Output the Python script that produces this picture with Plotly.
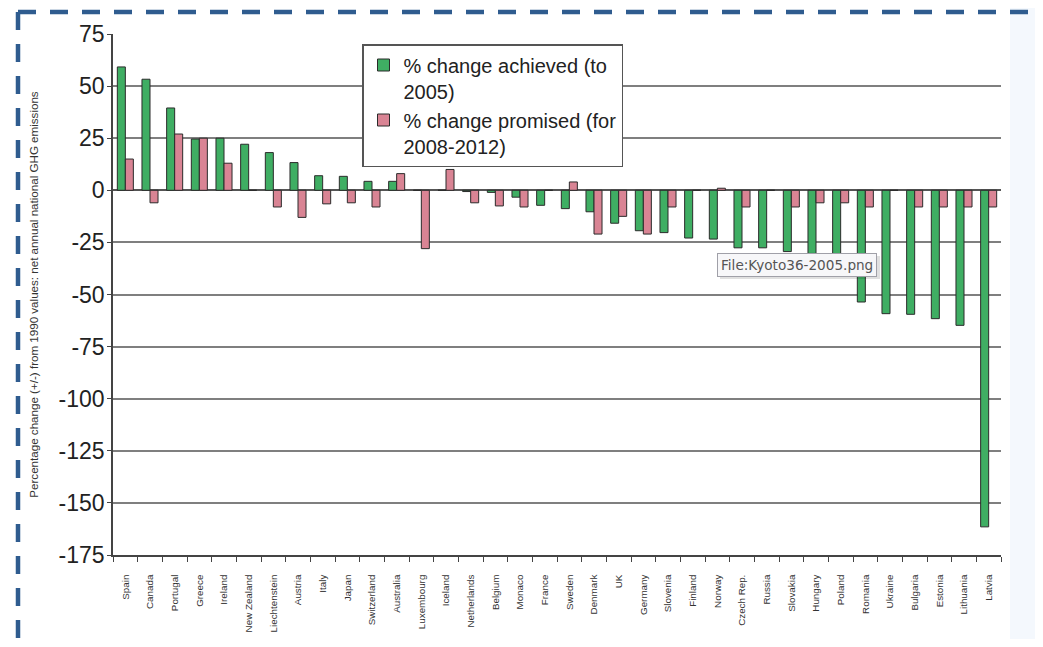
import plotly.graph_objects as go

countries = ["Spain", "Canada", "Portugal", "Greece", "Ireland", "New Zealand", "Liechtenstein",
             "Austria", "Italy", "Japan", "Switzerland", "Australia", "Luxembourg", "Iceland",
             "Netherlands", "Belgium", "Monaco", "France", "Sweden", "Denmark", "UK", "Germany",
             "Slovenia", "Finland", "Norway", "Czech Rep.", "Russia", "Slovakia", "Hungary",
             "Poland", "Romania", "Ukraine", "Bulgaria", "Estonia", "Lithuania", "Latvia"]

achieved = [59.2, 53.3, 39.5, 24.6, 25.0, 22.1, 18.1, 13.3, 7.0, 6.7, 4.3, 4.3, 0.0, 0.0,
            -0.6, -1.0, -3.3, -7.2, -8.8, -10.3, -15.8, -19.4, -20.3, -22.9, -23.4, -27.6,
            -27.6, -29.4, -30.3, -30.6, -53.6, -59.2, -59.5, -61.6, -64.8, -161.5]

promised = [15, -6, 27, 25, 13, 0, -8, -13, -6.5, -6, -8, 8, -28, 10, -6, -7.5, -8, 0, 4,
            -21, -12.5, -21, -8, 0, 1, -8, 0, -8, -6, -6, -8, 0, -8, -8, -8, -8]

y_ticks = [75, 50, 25, 0, -25, -50, -75, -100, -125, -150, -175]
y_tick_text = ["75", "50", "25", "0", "-25", "-50", "-75", "-100", "-125", "-150", "-175"]

name_achieved = "% change achieved (to<br>2005)"
name_promised = "% change promised (for<br>2008-2012)"
y_title = "Percentage change (+/-) from 1990 values: net annual national GHG emissions"
tooltip_text = "File:Kyoto36-2005.png"

# page has an 8px body margin; figure sized so the page does not overflow
OFF = 8
W, H = 1043 - 2 * OFF, 647 - 2 * OFF
PLOT_L, PLOT_R, PLOT_T, PLOT_B = 113, 1001, 34, 555   # page pixels
ML = PLOT_L - OFF
MT = PLOT_T - OFF
MR = (OFF + W) - PLOT_R
MB = (OFF + H) - PLOT_B
PW, PH = PLOT_R - PLOT_L, PLOT_B - PLOT_T


def px(x):
    return (x - PLOT_L) / PW


def py(y):
    return (PLOT_B - y) / PH


GREEN = "#3fae63"
PINK = "#d98494"
EDGE = "#2b2b2b"
FONT = "Liberation Sans, Arial, sans-serif"
PAGE_R, PAGE_B = OFF + W, OFF + H

fig = go.Figure()
fig.add_trace(go.Bar(x=countries, y=achieved, name=name_achieved,
                     marker=dict(color=GREEN, line=dict(color=EDGE, width=1))))
fig.add_trace(go.Bar(x=countries, y=promised, name=name_promised,
                     marker=dict(color=PINK, line=dict(color=EDGE, width=1))))

shapes = [
    dict(type="rect", xref="paper", yref="paper", x0=px(1010), x1=px(PAGE_R), y0=py(PAGE_B), y1=py(OFF),
         fillcolor="#f4f8fd", line=dict(width=0), layer="below"),
    dict(type="line", xref="paper", yref="paper", x0=px(18), x1=px(PAGE_R), y0=py(12), y1=py(12),
         line=dict(color="#2f5c8f", width=4.5, dash="18px,14px")),
    dict(type="line", xref="paper", yref="paper", x0=px(18), x1=px(18), y0=py(12), y1=py(PAGE_B),
         line=dict(color="#2f5c8f", width=4.5, dash="18px,14px")),
    dict(type="rect", xref="paper", yref="paper", x0=px(720), x1=px(880), y0=py(279), y1=py(256),
         fillcolor="rgba(0,0,0,0.12)", line=dict(width=0)),
]

annotations = [
    dict(text=tooltip_text, xref="paper", yref="paper", x=px(717), y=py(253),
         xanchor="left", yanchor="top", showarrow=False,
         font=dict(family="DejaVu Sans, sans-serif", size=13.6, color="#555555"),
         bgcolor="#f7f7f9", bordercolor="#a0a0a8", borderwidth=1, borderpad=3),
]

fig.update_layout(
    width=W, height=H,
    margin=dict(l=ML, r=MR, t=MT, b=MB, autoexpand=False),
    paper_bgcolor="white", plot_bgcolor="white",
    font=dict(family=FONT, color="#222222"),
    barmode="group", bargap=0.35, bargroupgap=0.0,
    showlegend=True,
    legend=dict(x=px(362), y=py(44), xanchor="left", yanchor="top",
                bgcolor="white", bordercolor="#555555", borderwidth=1.5,
                font=dict(size=20, color="#222222", family=FONT),
                valign="top", tracegroupgap=8, itemwidth=30),
    shapes=shapes,
    annotations=annotations,
    xaxis=dict(type="category", tickangle=-90, tickfont=dict(size=9.8, color="#333333"),
               showline=True, linecolor="#444444", linewidth=1.5,
               ticks="outside", ticklen=5, tickcolor="#444444", tickson="boundaries",
               showgrid=False, automargin=False, ticklabelstandoff=14),
    yaxis=dict(range=[-175, 75], tickvals=y_ticks, ticktext=y_tick_text,
               tickfont=dict(size=23, color="#222222"),
               showline=True, linecolor="#444444", linewidth=1.5,
               ticks="outside", ticklen=4, tickcolor="#444444", ticklabelstandoff=-2,
               showgrid=True, gridcolor="#7f7f7f", gridwidth=1.5,
               zeroline=True, zerolinecolor="#555555", zerolinewidth=1.5,
               automargin=False,
               title=dict(text=y_title, font=dict(size=11.6, color="#333333"), standoff=18)),
)

fig.write_html("out.html")
